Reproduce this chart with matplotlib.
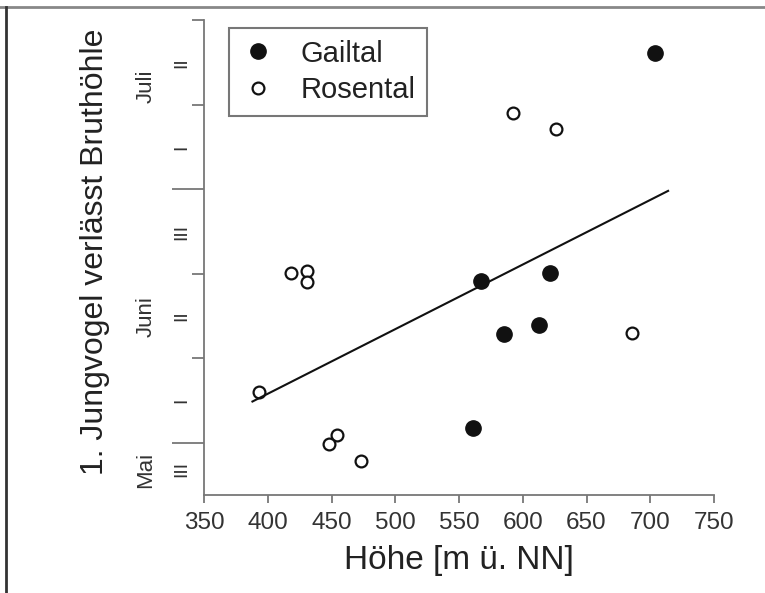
import matplotlib
matplotlib.use("Agg")
import matplotlib.pyplot as plt
import matplotlib.transforms as mtransforms
from matplotlib.lines import Line2D

plt.rcParams['font.family'] = ['Liberation Sans', 'DejaVu Sans']

#------- Daten (y = Tage ab 1. Juni) -------#
gail_x = [567, 621, 585, 613, 561, 704]
gail_y = [19.1, 20.1, 12.9, 13.9, 1.8, 46.1]
ros_x = [592, 626, 418, 431, 431, 686, 393, 454, 448, 473]
ros_y = [39.0, 37.1, 20.1, 20.3, 19.0, 13.0, 6.0, 1.0, -0.1, -2.1]
trend_x = [388, 714]
trend_y = [4.9, 29.8]

xticks = [350, 400, 450, 500, 550, 600, 650, 700, 750]
ytick_major = [0, 30]
ytick_minor = [10, 20, 40, 50]
dekade_pos = [-3.1, 5, 15, 25, 35, 45]
dekade_lab = ['III', 'I', 'II', 'III', 'I', 'II']
monat_pos = [-3.2, 15, 42.2]
monat_lab = ['Mai', 'Juni', 'Juli']

fig = plt.figure(figsize=(7.65, 5.93), dpi=100)
ax = fig.add_axes([204/765, 98/593, 510/765, 475/593])

ax.plot(gail_x, gail_y, 'o', color='#111111', markersize=11, label='Gailtal')
ax.plot(ros_x, ros_y, 'o', mfc='white', mec='#111111', mew=1.6, markersize=8.5, label='Rosental')
ax.plot(trend_x, trend_y, '-', color='#111111', lw=1.5)

ax.set_xlim(350, 750)
ax.set_ylim(-6.15, 50)
ax.spines['top'].set_visible(False)
ax.spines['right'].set_visible(False)
for s in ['left', 'bottom']:
    ax.spines[s].set_color('#777777')
    ax.spines[s].set_linewidth(1.3)

ax.set_xticks(xticks)
ax.tick_params(axis='x', length=6, width=1.3, color='#777777', pad=6,
               labelsize=17.5, labelcolor='#333333')
ax.set_yticks(ytick_major)
ax.set_yticks(ytick_minor, minor=True)
ax.tick_params(axis='y', which='major', length=23, width=1.3, color='#777777', labelleft=False)
ax.tick_params(axis='y', which='minor', length=8.5, width=1.3, color='#777777', labelleft=False)

tr = mtransforms.blended_transform_factory(ax.transAxes, ax.transData)
for p, l in zip(dekade_pos, dekade_lab):
    ax.text(-0.043, p, l, transform=tr, rotation=90, ha='center', va='center',
            fontsize=14, color='#333333')
for p, l in zip(monat_pos, monat_lab):
    ax.text(-0.114, p, l, transform=tr, rotation=90, ha='center', va='center',
            fontsize=16, color='#333333')

ax.set_xlabel("Höhe [m ü. NN]", fontsize=24, color='#222222', labelpad=8)
fig.text(95/765, 1 - 252/593, "1. Jungvogel verlässt Bruthöhle", rotation=90,
         ha='center', va='center', fontsize=23, color='#222222')

leg = ax.legend(loc='upper left', bbox_to_anchor=(25/510, 467/475), borderaxespad=0,
                fontsize=21, fancybox=False, framealpha=1, edgecolor='#777777',
                borderpad=0.4, handlelength=1.2, handletextpad=0.85, labelspacing=0.3)
leg.get_frame().set_linewidth(1.5)
for t in leg.get_texts():
    t.set_color('#222222')

fig.add_artist(Line2D([0, 1], [1 - 7/593, 1 - 7/593], color='#888888', lw=2))
fig.add_artist(Line2D([6/765, 6/765], [0, 1 - 7/593], color='#333333', lw=2))

plt.savefig("out.png", dpi=100)
plt.close()
